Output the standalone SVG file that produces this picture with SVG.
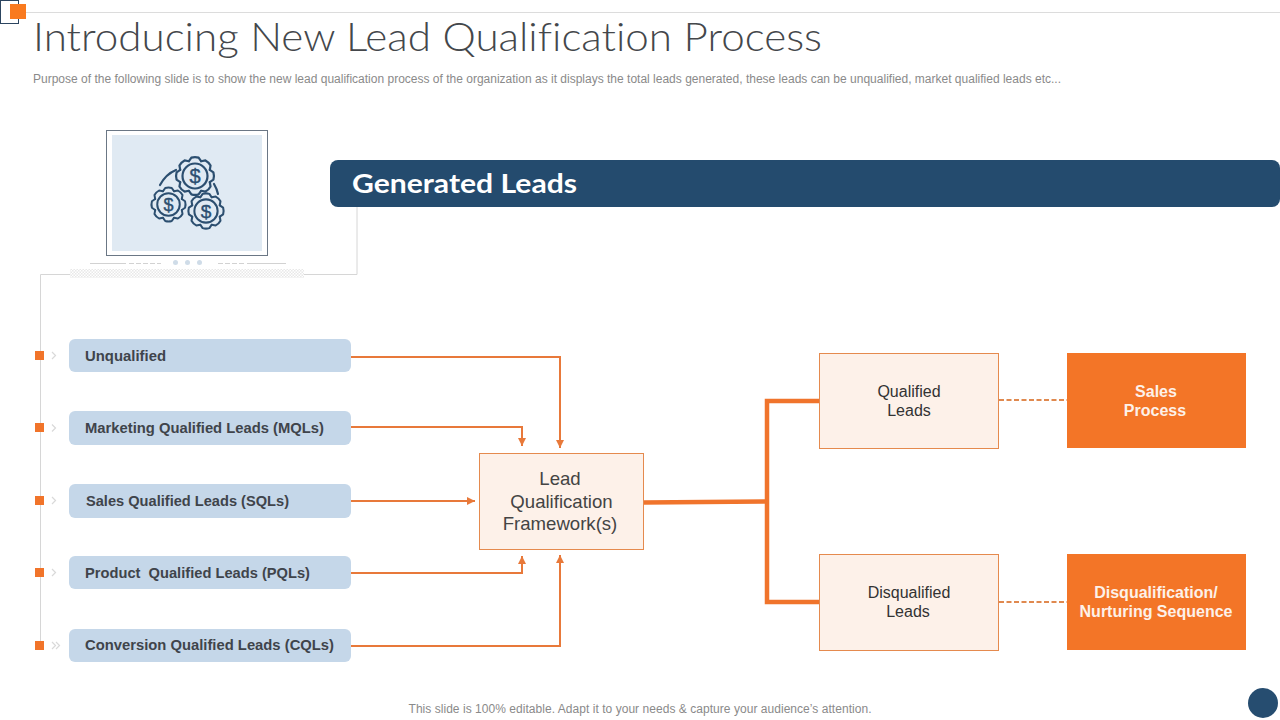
<svg xmlns="http://www.w3.org/2000/svg" xmlns:xlink="http://www.w3.org/1999/xlink" width="1280" height="720" viewBox="0 0 1280 720">
<style>
text{font-family:"Liberation Sans",Arial,sans-serif}
.pill{fill:#c5d7e9}
.pl{font-size:14.8px;font-weight:700;fill:#3f444b}
.sq{fill:#f1742a}
.chev{fill:none;stroke:#d9d9d9;stroke-width:1.2}
.box{fill:#fdf1e9;stroke:#e58a4e;stroke-width:1}
.bt{font-size:16px;fill:#333;text-anchor:middle}
.bl{font-size:18.600px;fill:#444;text-anchor:middle}
.ob{fill:#f37527}
.ot{font-size:16px;font-weight:700;fill:#fdf1e9;text-anchor:middle}
.arr{fill:none;stroke:#e8793a;stroke-width:2;marker-end:url(#ah)}
.thick{fill:none;stroke:#f0742c;stroke-width:4.5}
.dash{fill:none;stroke:#e0894f;stroke-width:2;stroke-dasharray:5 2.5}
.guide{fill:none;stroke:#d6d6d6;stroke-width:1}
.ic{fill:none;stroke:#2c4f70;stroke-width:2.200;stroke-linejoin:round;stroke-linecap:round}
.dl{font-family:"Liberation Sans",sans-serif;font-weight:400;fill:#2c4f70;text-anchor:middle;stroke:#2c4f70;stroke-width:.4}
</style>
<defs>
<marker id="ah" markerUnits="userSpaceOnUse" markerWidth="9" markerHeight="9" refX="8" refY="4.5" orient="auto"><path d="M0,0.5L8,4.5L0,8.5z" fill="#e8793a"/></marker>
<path id="t" d="M-6.1,-14.8L-3.6,-18.4Q0,-19.5 3.6,-18.4L6.1,-14.8"/>
<g id="gear" class="ic">
<use xlink:href="#t"/><use xlink:href="#t" transform="rotate(45)"/><use xlink:href="#t" transform="rotate(90)"/><use xlink:href="#t" transform="rotate(135)"/><use xlink:href="#t" transform="rotate(180)"/><use xlink:href="#t" transform="rotate(225)"/><use xlink:href="#t" transform="rotate(270)"/><use xlink:href="#t" transform="rotate(315)"/>
<circle r="12.5"/>
</g>
<pattern id="hatch" width="3" height="3" patternUnits="userSpaceOnUse"><rect width="3" height="3" fill="#fff"/><rect width="1.5" height="1.5" fill="#e8e8e8"/><rect x="1.5" y="1.5" width="1.5" height="1.5" fill="#e8e8e8"/></pattern>
</defs>
<rect width="1280" height="720" fill="#fff"/>
<g id="header">
<line x1="26" y1="12.5" x2="1280" y2="12.5" stroke="#dcdcdc" stroke-width="1"/>
<rect x="0.5" y="0.5" width="18" height="23" fill="#fff" stroke="#2c4560" stroke-width="1"/>
<rect x="10" y="4" width="16" height="15" fill="#f97a1f"/>
<text x="33" y="51" font-size="39" fill="#44474b" textLength="789" lengthAdjust="spacingAndGlyphs" style="font-family:Lato,'Liberation Sans',sans-serif;font-weight:300;font-variant-ligatures:none">Introducing New Lead Qualification Process</text>
<text x="33" y="83" font-size="12" fill="#8a8a8a" textLength="1028" lengthAdjust="spacing">Purpose of the following slide is to show the new lead qualification process of the organization as it displays the total leads generated, these leads can be unqualified, market qualified leads etc...</text>
</g>
<g id="guides">
<path class="guide" d="M357,207V274.5H304M70,274.5H40.5V650"/>
</g>
<g id="laptop">
<rect x="106.5" y="130.5" width="161" height="125" fill="#fff" stroke="#6b7785" stroke-width="1"/>
<rect x="112" y="135" width="150" height="116" fill="#e0eaf3"/>
<path d="M90,263.5H126M129,263.5h5M136,263.5h5M143,263.5h5M150,263.5h5M157,263.5h4M218,263.5h5M225,263.5h5M232,263.5h5M239,263.5h5M247,263.5H286" stroke="#d2d2d2" stroke-width="1" fill="none"/>
<circle cx="175.500" cy="262.500" r="2.500" fill="#cfdce8"/><circle cx="187.500" cy="262.500" r="2.500" fill="#cfdce8"/><circle cx="199.500" cy="262.500" r="2.500" fill="#cfdce8"/>
<rect x="70" y="269" width="234" height="9" fill="url(#hatch)"/>
</g>
<g id="icon">
<path class="ic" d="M160,185Q166,174 176,170M214,184Q217,189 218,194"/>
<use xlink:href="#gear" transform="translate(195,176)"/>
<use xlink:href="#gear" transform="translate(168.500,204.500) scale(.9)"/>
<use xlink:href="#gear" transform="translate(206,211) scale(.93)"/>
<text class="dl" x="195" y="183" font-size="20">$</text>
<text class="dl" x="168.500" y="211" font-size="18">$</text>
<text class="dl" x="206" y="217.500" font-size="19">$</text>
</g>
<g id="generated-leads">
<rect x="330" y="160" width="950" height="47" rx="8" fill="#244b6e"/>
<text x="352" y="193" font-size="27" fill="#fff" textLength="225" lengthAdjust="spacingAndGlyphs" style="font-family:Lato,'Liberation Sans',sans-serif;font-weight:700">Generated Leads</text>
</g>
<g id="connectors">
<path class="arr" d="M351,357H560V448"/>
<path class="arr" d="M351,427H522V446"/>
<path class="arr" d="M351,501H475"/>
<path class="arr" d="M351,573H522V556"/>
<path class="arr" d="M351,646H560V555"/>
<path class="thick" d="M644,502.500L767,501.500"/>
<path class="thick" d="M819,401H767V602H819"/>
<path class="dash" d="M999,400H1067"/>
<path class="dash" d="M999,602H1067"/>
</g>
<g id="n-unqualified">
<rect class="sq" x="35" y="351" width="9" height="9"/><path class="chev" d="M52,352l3.500,3.500-3.500,3.500"/>
<rect class="pill" x="69" y="339" width="282" height="33" rx="6"/>
<text class="pl" x="85" y="361" textLength="81" lengthAdjust="spacingAndGlyphs">Unqualified</text>
</g>
<g id="n-mql">
<rect class="sq" x="35" y="423" width="9" height="9"/><path class="chev" d="M52,424.500l3.500,3.500-3.500,3.500"/>
<rect class="pill" x="69" y="411" width="282" height="34" rx="6"/>
<text class="pl" x="85" y="433" textLength="239" lengthAdjust="spacingAndGlyphs">Marketing Qualified Leads (MQLs)</text>
</g>
<g id="n-sql">
<rect class="sq" x="35" y="496" width="9" height="9"/><path class="chev" d="M52,497l3.500,3.500-3.500,3.500"/>
<rect class="pill" x="69" y="484" width="282" height="34" rx="6"/>
<text class="pl" x="86" y="506" textLength="203" lengthAdjust="spacingAndGlyphs">Sales Qualified Leads (SQLs)</text>
</g>
<g id="n-pql">
<rect class="sq" x="35" y="568" width="9" height="9"/><path class="chev" d="M52,569l3.500,3.500-3.500,3.500"/>
<rect class="pill" x="69" y="556" width="282" height="33" rx="6"/>
<text class="pl" x="85" y="578" xml:space="preserve" textLength="225" lengthAdjust="spacingAndGlyphs">Product  Qualified Leads (PQLs)</text>
</g>
<g id="n-cql">
<rect class="sq" x="35" y="641" width="9" height="9"/><path class="chev" d="M52,642l3.500,3.500-3.500,3.500M56,642l3.500,3.500-3.500,3.500"/>
<rect class="pill" x="69" y="629" width="282" height="33" rx="6"/>
<text class="pl" x="85" y="650" textLength="249" lengthAdjust="spacingAndGlyphs">Conversion Qualified Leads (CQLs)</text>
</g>
<g id="n-framework">
<rect class="box" x="479.500" y="453.500" width="164" height="96"/>
<text class="bl" x="560" y="485">Lead</text>
<text class="bl" x="561.500" y="508">Qualification</text>
<text class="bl" x="560" y="530">Framework(s)</text>
</g>
<g id="n-qualified">
<rect class="box" x="819.500" y="353.500" width="179" height="95"/>
<text class="bt" x="909" y="397">Qualified</text>
<text class="bt" x="909" y="416">Leads</text>
</g>
<g id="n-disqualified">
<rect class="box" x="819.500" y="554.500" width="179" height="96"/>
<text class="bt" x="909" y="598">Disqualified</text>
<text class="bt" x="908" y="617">Leads</text>
</g>
<g id="n-sales">
<rect class="ob" x="1067" y="353" width="179" height="95"/>
<text class="ot" x="1156" y="397">Sales</text>
<text class="ot" x="1155" y="416">Process</text>
</g>
<g id="n-nurture">
<rect class="ob" x="1067" y="554" width="179" height="96"/>
<text class="ot" x="1156" y="598">Disqualification/</text>
<text class="ot" x="1156" y="617">Nurturing Sequence</text>
</g>
<g id="footer">
<text x="640" y="713" font-size="12" fill="#8a8a8a" text-anchor="middle" textLength="463" lengthAdjust="spacing">This slide is 100% editable. Adapt it to your needs &amp; capture your audience’s attention.</text>
<circle cx="1263" cy="703" r="15" fill="#264d70"/>
</g>
</svg>
